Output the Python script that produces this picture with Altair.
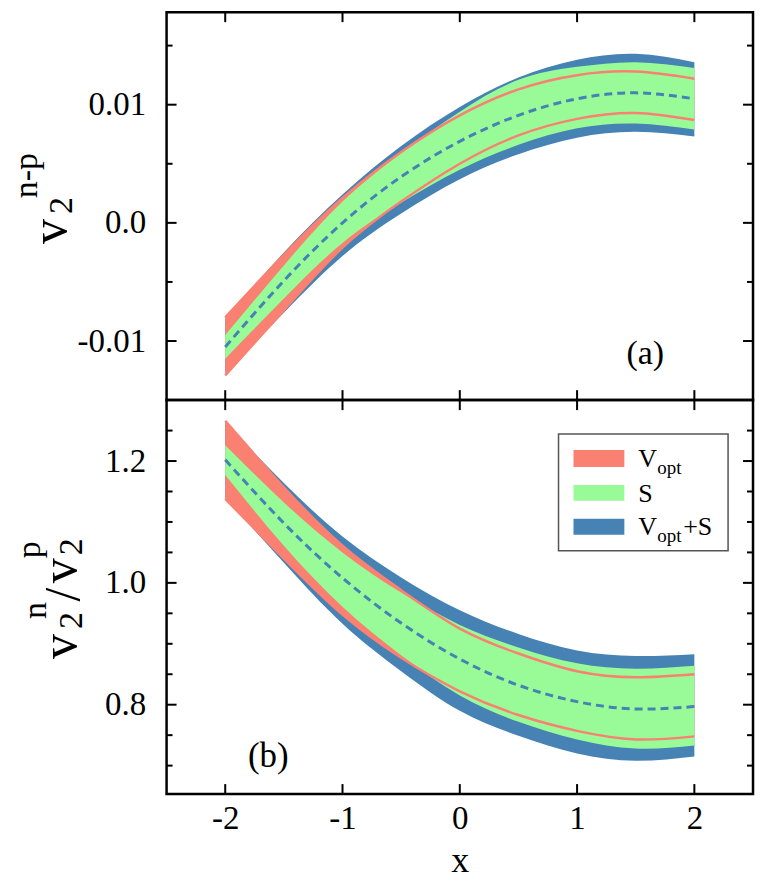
import altair as alt
import pandas as pd

# ---------------- data ----------------
xs = [-2.0, -1.5, -1.0, -0.5, 0.0, 0.5, 1.0, 1.5, 2.0]

# panel (a): v2^{n-p}
a_center   = [-0.0105, -0.0049, 0.0000, 0.0039, 0.0069, 0.0091, 0.0105, 0.0110, 0.0105]
a_blue_hi  = [-0.0082, -0.0025, 0.0024, 0.0065, 0.0098, 0.0123, 0.0138, 0.0143, 0.0136]
a_blue_lo  = [-0.0126, -0.0076, -0.0028, 0.0008, 0.0037, 0.0058, 0.0072, 0.0077, 0.0073]
a_red_hi   = [-0.0080, -0.0027, 0.0021, 0.0060, 0.0091, 0.0113, 0.0125, 0.0128, 0.0122]
a_red_lo   = [-0.0129, -0.0074, -0.0021, 0.0018, 0.0050, 0.0074, 0.0088, 0.0093, 0.0087]
a_green_hi = [-0.0095, -0.0036, 0.0018, 0.0059, 0.0094, 0.0121, 0.0132, 0.0136, 0.0131]
a_green_lo = [-0.0115, -0.0064, -0.0017, 0.0017, 0.0045, 0.0066, 0.0080, 0.0084, 0.0079]

# panel (b): v2^n / v2^p
b_center   = [1.202, 1.098, 1.008, 0.934, 0.875, 0.832, 0.805, 0.793, 0.797]
b_blue_hi  = [1.262, 1.164, 1.076, 1.009, 0.955, 0.916, 0.889, 0.880, 0.883]
b_blue_lo  = [1.140, 1.033, 0.933, 0.855, 0.790, 0.749, 0.720, 0.708, 0.715]
b_red_hi   = [1.266, 1.157, 1.061, 0.988, 0.925, 0.884, 0.855, 0.845, 0.850]
b_red_lo   = [1.138, 1.040, 0.948, 0.877, 0.822, 0.783, 0.757, 0.743, 0.748]
b_green_hi = [1.226, 1.132, 1.050, 0.984, 0.931, 0.894, 0.868, 0.859, 0.864]
b_green_lo = [1.177, 1.061, 0.961, 0.881, 0.815, 0.772, 0.743, 0.728, 0.733]

x_major = [-2, -1, 0, 1, 2]
a_major = [-0.01, 0.0, 0.01]
a_minor = [-0.005, 0.005, 0.015]
b_major = [0.8, 1.0, 1.2]
b_minor = [0.7, 0.75, 0.85, 0.9, 0.95, 1.05, 1.1, 1.15, 1.25]

legend_names = ["V", "S", "V"]
legend_subs = ["opt", "", "opt"]
legend_tails = ["", "", "+S"]

# ---------------- styling ----------------
RED = "#FA8072"
GREEN = "#98FB98"
BLUE = "#4682B4"
FONT = "Liberation Serif"
W = 588
HA = 389
HB = 395
INTERP = "natural"

xscale = alt.Scale(domain=[-2.5, 2.5], nice=False, zero=False)


def frame(center, bhi, blo, rhi, rlo, ghi, glo):
    return pd.DataFrame({
        "x": xs, "center": center,
        "blue_hi": bhi, "blue_lo": blo,
        "red_hi": rhi, "red_lo": rlo,
        "green_hi": ghi, "green_lo": glo,
    })


one = pd.DataFrame({"a": [0]})


def txt(s, size, x, y, align="center", angle=0, baseline="alphabetic"):
    kw = dict(text=s, font=FONT, fontSize=size, align=align,
              baseline=baseline, color="black")
    if angle:
        kw["angle"] = angle
    return alt.Chart(one).mark_text(**kw).encode(x=alt.value(x), y=alt.value(y))


def panel(df, ydomain, H, major, minor, yexpr, xaxis, extra):
    yscale = alt.Scale(domain=ydomain, nice=False, zero=False)
    yaxis = alt.Axis(values=major, labelExpr=yexpr, ticks=False, tickSize=0,
                     domain=False, grid=False, labelFont=FONT, labelFontSize=33,
                     labelPadding=21, labelColor="black", title=None)
    base = alt.Chart(df)

    def X(f="x"):
        return alt.X(f + ":Q", scale=xscale, axis=xaxis)

    def Y(f):
        return alt.Y(f + ":Q", scale=yscale, axis=yaxis)

    layers = [
        base.mark_area(color=BLUE, interpolate=INTERP, opacity=1).encode(
            x=X(), y=Y("blue_lo"), y2="blue_hi:Q"),
        base.mark_area(color=RED, interpolate=INTERP, opacity=1).encode(
            x=X(), y=Y("red_lo"), y2="red_hi:Q"),
        base.mark_area(color=GREEN, interpolate=INTERP, opacity=1).encode(
            x=X(), y=Y("green_lo"), y2="green_hi:Q"),
        base.mark_line(color=RED, strokeWidth=2.5, interpolate=INTERP).encode(
            x=X(), y=Y("red_hi")),
        base.mark_line(color=RED, strokeWidth=2.5, interpolate=INTERP).encode(
            x=X(), y=Y("red_lo")),
        base.mark_line(color=BLUE, strokeWidth=3, strokeDash=[8, 5],
                       interpolate=INTERP).encode(x=X(), y=Y("center")),
    ]
    xt = alt.Chart(pd.DataFrame({"t": x_major}))
    ymj = alt.Chart(pd.DataFrame({"t": major}))
    ymn = alt.Chart(pd.DataFrame({"t": minor}))
    rule = dict(color="black", strokeWidth=2)
    layers += [
        xt.mark_rule(**rule).encode(x=X("t"), y=alt.value(0), y2=alt.value(10)),
        xt.mark_rule(**rule).encode(x=X("t"), y=alt.value(H), y2=alt.value(H - 10)),
        ymj.mark_rule(**rule).encode(y=Y("t"), x=alt.value(0), x2=alt.value(10)),
        ymj.mark_rule(**rule).encode(y=Y("t"), x=alt.value(W), x2=alt.value(W - 10)),
        ymn.mark_rule(**rule).encode(y=Y("t"), x=alt.value(0), x2=alt.value(6)),
        ymn.mark_rule(**rule).encode(y=Y("t"), x=alt.value(W), x2=alt.value(W - 6)),
    ]
    layers += extra
    return alt.layer(*layers).properties(width=W, height=H)


# ---------------- panel (a) ----------------
dfa = frame(a_center, a_blue_hi, a_blue_lo, a_red_hi, a_red_lo, a_green_hi, a_green_lo)
a_expr = "datum.value == 0 ? '0.0' : (datum.value < 0 ? '-' : '') + format(abs(datum.value), '.2f')"
a_extra = [
    txt("v", 50, -101, 220, angle=270),
    txt("2", 34, -95, 194, angle=270),
    txt("n-p", 34, -130, 164, angle=270),
    txt("(a)", 34, 480, 353),
]
top = panel(dfa, [-0.015, 0.01783], HA, a_major, a_minor, a_expr, None, a_extra)

# ---------------- panel (b) ----------------
dfb = frame(b_center, b_blue_hi, b_blue_lo, b_red_hi, b_red_lo, b_green_hi, b_green_lo)
b_expr = "format(datum.value, '.1f')"
xaxis_b = alt.Axis(values=x_major,
                   labelExpr="(datum.value < 0 ? '-' : '') + format(abs(datum.value), 'd')",
                   ticks=False, tickSize=0, domain=False, grid=False,
                   labelFont=FONT, labelFontSize=33, labelColor="black",
                   labelBaseline="alphabetic", labelPadding=35,
                   title="x", titleFont=FONT, titleFontSize=36, titleFontWeight="normal",
                   titleColor="black", titleBaseline="alphabetic", titleY=78)

legend_layers = [
    alt.Chart(one).mark_rect(fill="white", stroke="#555555", strokeWidth=1.5).encode(
        x=alt.value(393), x2=alt.value(563), y=alt.value(34), y2=alt.value(151)),
]
sym_rows = [(50, 67), (85, 101), (119, 135)]
sym_cols = [RED, GREEN, BLUE]
for (y1, y2), col in zip(sym_rows, sym_cols):
    legend_layers.append(
        alt.Chart(one).mark_rect(fill=col).encode(
            x=alt.value(408), x2=alt.value(459), y=alt.value(y1), y2=alt.value(y2)))
base_lines = [67, 102, 135]
for name, sub, tail, yb in zip(legend_names, legend_subs, legend_tails, base_lines):
    legend_layers.append(txt(name, 26, 473, yb, align="left"))
    if sub:
        legend_layers.append(txt(sub, 19, 492, yb + 7, align="left"))
    if tail:
        legend_layers.append(txt(tail, 26, 518, yb, align="left"))

b_extra = [
    txt("v", 50, -91, 247, angle=270),
    txt("2", 34, -85, 221, angle=270),
    txt("n", 34, -121, 211, angle=270),
    txt("/", 50, -88, 195, angle=270),
    txt("v", 50, -91, 171, angle=270),
    txt("2", 34, -85, 147, angle=270),
    txt("p", 34, -127, 150, angle=270),
    txt("(b)", 35, 102, 368),
] + legend_layers
bottom = panel(dfb, [0.6533, 1.3], HB, b_major, b_minor, b_expr, xaxis_b, b_extra)

chart = alt.vconcat(top, bottom, spacing=0, bounds="flush").properties(
    padding=0
).configure(
    font=FONT
).configure_view(
    stroke="black", strokeWidth=2.5
)

chart.save("out.html", embed_options={"renderer": "svg", "actions": False})
